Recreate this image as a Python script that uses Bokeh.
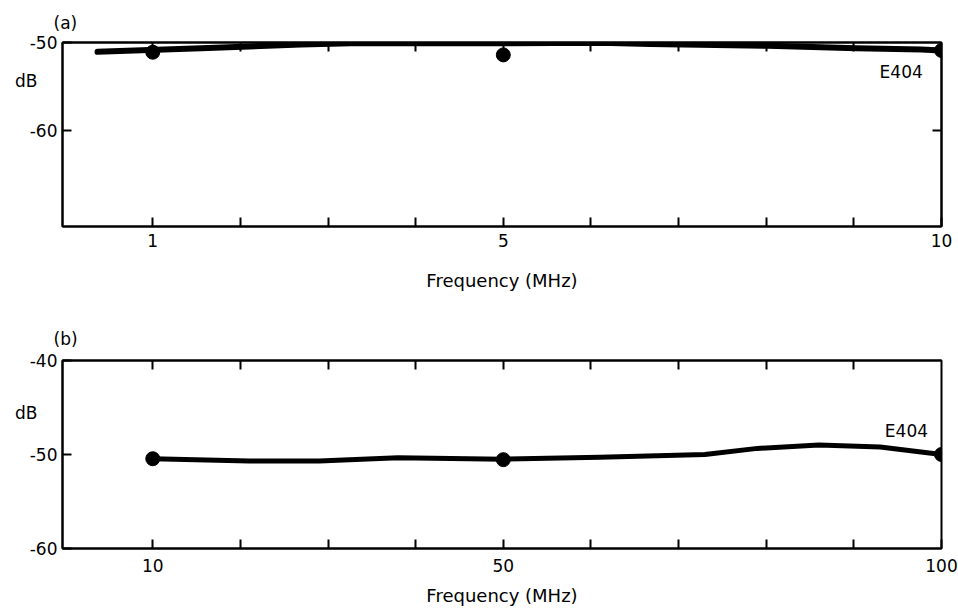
from bokeh.plotting import figure
from bokeh.models import Range1d, LinearAxis, FixedTicker, Label
from bokeh.layouts import column
from bokeh.embed import file_html
from bokeh.resources import INLINE

FONT = "DejaVu Sans"

# ---- Panel (a): 1-10 MHz ----
a_major = [1, 5, 10]
a_minor = [2, 3, 4, 6, 7, 8, 9]
a_top = [1, 2, 3, 4, 5, 6, 7, 8, 9]
a_curve_x = [0.37, 1.55, 2.69, 3.26, 4.97, 6.11, 6.68, 8.02, 9.03, 9.77, 10.0]
a_curve_y = [-51.05, -50.65, -50.23, -50.08, -50.08, -50.03, -50.17, -50.38, -50.66, -50.8, -50.9]
a_pts_x = [1, 5, 10]
a_pts_y = [-51.1, -51.4, -50.9]
a_yticks = [-50, -60]
a_right = [-60]

# ---- Panel (b): 10-100 MHz ----
b_major = [10, 50, 100]
b_minor = [20, 30, 40, 60, 70, 80, 90]
b_top = [10, 20, 30, 40, 50, 60, 70, 80, 90]
b_curve_x = [10, 21, 29, 38, 50, 61, 73, 79, 86, 93, 100]
b_curve_y = [-50.45, -50.7, -50.68, -50.35, -50.5, -50.3, -50.0, -49.35, -49.0, -49.2, -50.0]
b_pts_x = [10, 50, 100]
b_pts_y = [-50.45, -50.55, -50.0]
b_yticks = [-40, -50, -60]


def style_axis(ax, major, minor=()):
    ax.ticker = FixedTicker(ticks=list(major), minor_ticks=list(minor))
    ax.axis_line_color = "black"
    ax.axis_line_width = 2
    for kind in ("major", "minor"):
        setattr(ax, kind + "_tick_line_color", "black")
        setattr(ax, kind + "_tick_line_width", 2)
        setattr(ax, kind + "_tick_in", 9)
        setattr(ax, kind + "_tick_out", 0)
    ax.major_label_text_font = FONT
    ax.major_label_text_font_size = "17px"
    ax.major_label_text_color = "black"


def make_panel(tag, xr, yr, xmajor, xminor, top_ticks, yticks, right_ticks,
               cx, cy, px, py, lw, h, top, bottom, db_y, e_pos, tick_standoff,
               label_standoff, title_standoff):
    p = figure(width=958, height=h, x_range=Range1d(*xr), y_range=Range1d(*yr),
               output_backend="svg", toolbar_location=None,
               min_border_left=62, min_border_right=17,
               min_border_top=top, min_border_bottom=bottom)
    p.grid.visible = False
    p.background_fill_color = "white"
    p.border_fill_color = "white"
    p.outline_line_color = "black"
    p.outline_line_width = 2

    p.title.text = tag
    p.title.align = "left"
    p.title.offset = -9
    p.title.standoff = title_standoff
    p.title.text_font = FONT
    p.title.text_font_size = "17px"
    p.title.text_font_style = "normal"
    p.title.text_color = "black"

    xa = p.xaxis[0]
    style_axis(xa, xmajor, xminor)
    xa.major_label_standoff = tick_standoff
    xa.axis_label = "Frequency (MHz)"
    xa.axis_label_text_font = FONT
    xa.axis_label_text_font_size = "18px"
    xa.axis_label_text_font_style = "normal"
    xa.axis_label_text_color = "black"
    xa.axis_label_standoff = label_standoff

    ya = p.yaxis[0]
    style_axis(ya, yticks)
    ya.major_label_standoff = 5
    ya.major_label_overrides = {t: "-%d" % abs(t) for t in yticks}

    # "dB" unit label, placed as a single labelled position beside the value labels
    da = LinearAxis(ticker=FixedTicker(ticks=[db_y]), major_label_overrides={db_y: "dB"},
                    axis_line_color=None, major_tick_line_color=None,
                    minor_tick_line_color=None, major_label_standoff=-17,
                    major_label_text_font=FONT, major_label_text_font_size="17px",
                    major_label_text_color="black")
    p.add_layout(da, "left")

    ta = LinearAxis()
    style_axis(ta, [], top_ticks)
    p.add_layout(ta, "above")
    if right_ticks:
        ra = LinearAxis()
        style_axis(ra, [], right_ticks)
        p.add_layout(ra, "right")

    p.line(cx, cy, line_color="black", line_width=lw, line_cap="round", line_join="round")
    p.scatter(px, py, size=14, fill_color="black", line_color="black")

    p.add_layout(Label(x=e_pos[0], y=e_pos[1], text="E404", text_font=FONT,
                       text_font_size="17px", text_color="black",
                       text_align="center", text_baseline="middle"))
    return p


pa = make_panel("(a)", (-0.03, 10.0), (-70.8, -50.0), a_major, a_minor, a_top, a_yticks, a_right,
                a_curve_x, a_curve_y, a_pts_x, a_pts_y, 6, 300, 42, 74,
                -54.3, (9.54, -53.3), 7, 20, 20)
pb = make_panel("(b)", (-0.3, 100.0), (-60.0, -40.0), b_major, b_minor, b_top, b_yticks, None,
                b_curve_x, b_curve_y, b_pts_x, b_pts_y, 5, 310, 60, 62,
                -45.6, (96.0, -47.45), 10, 10, 23)

layout = column(pa, pb, spacing=0)
open("out.html", "w").write(file_html(layout, INLINE))
